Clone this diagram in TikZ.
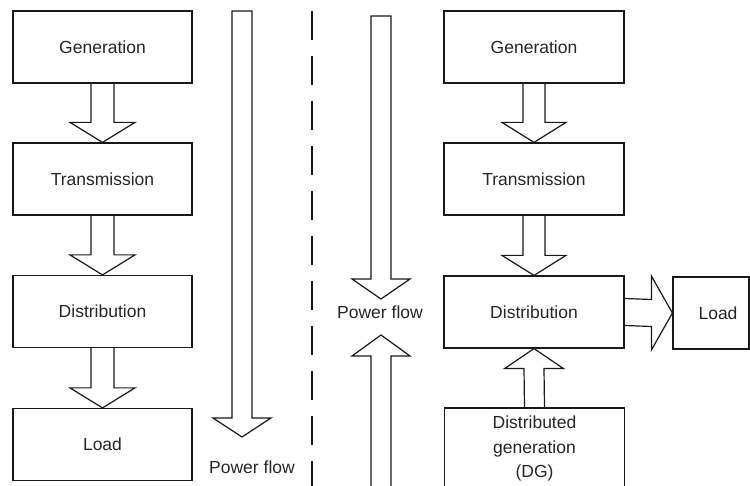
\documentclass[tikz,border=0pt]{standalone}
\usepackage{fontspec}
\setmainfont{Liberation Sans}
\usetikzlibrary{calc}
\tikzset{
  box/.style={draw=black!90, line width=1.2pt, minimum width=179pt, minimum height=72pt, inner sep=0pt, align=center, font=\fontsize{17.5}{24.5}\selectfont, text=black!85},
  arr/.style={draw=black!90, line width=1.2pt, line join=miter},
  lbl/.style={inner sep=0pt, font=\fontsize{17.5}{24}\selectfont, text=black!85},
  divider/.style={draw=black!90, line width=1.7pt, dash pattern=on 29pt off 16pt}
}
% down block arrow: from, to, shaft half width, head half width, head length
\newcommand\blkdown[5]{%
  \draw[arr] ($(#1)+(-#3,0)$) -- ($(#2)+(-#3,-#5)$) -- ($(#2)+(-#4,-#5)$) -- (#2)
    -- ($(#2)+(#4,-#5)$) -- ($(#2)+(#3,-#5)$) -- ($(#1)+(#3,0)$);}
\newcommand\blkup[5]{%
  \draw[arr] ($(#1)+(-#3,0)$) -- ($(#2)+(-#3,#5)$) -- ($(#2)+(-#4,#5)$) -- (#2)
    -- ($(#2)+(#4,#5)$) -- ($(#2)+(#3,#5)$) -- ($(#1)+(#3,0)$);}
\newcommand\blkright[5]{%
  \draw[arr] ($(#1)+(0,-#3)$) -- ($(#2)+(-#5,-#3)$) -- ($(#2)+(-#5,-#4)$) -- (#2)
    -- ($(#2)+(-#5,#4)$) -- ($(#2)+(-#5,#3)$) -- ($(#1)+(0,#3)$);}
\begin{document}
\begin{tikzpicture}[x=1pt,y=-1pt]
\useasboundingbox (0,0) rectangle (750,486);
\clip (0,0) rectangle (750,486);

% left column
\node[box] (lgen) at (102.5,47) {Generation};
\node[box] (ltra) at (102.5,179) {Transmission};
\node[box] (ldis) at (102.5,311.5) {Distribution};
\node[box] (lload) at (102.5,444.5) {Load};
\blkdown{lgen.south}{ltra.north}{11.5}{32.5}{20}
\blkdown{ltra.south}{ldis.north}{11.5}{32.5}{20}
\blkdown{ldis.south}{lload.north}{11.5}{32.5}{20}

% left power flow arrow
\coordinate (lpfTop) at (242,11);
\coordinate (lpfTip) at (242,437);
\draw[arr] ($(lpfTop)+(-10,0)$) -- ($(lpfTip)+(-10,-19)$) -- ($(lpfTip)+(-29,-19)$) -- (lpfTip)
  -- ($(lpfTip)+(29,-19)$) -- ($(lpfTip)+(10,-19)$) -- ($(lpfTop)+(10,0)$) -- cycle;
\node[lbl] (lpf) at (252,467) {Power flow};

% divider
\coordinate (dvTop) at (312,11);
\coordinate (dvBot) at (312,500);
\draw[divider] (dvTop) -- (dvBot);

% middle power flow arrows
\coordinate (mdTop) at (381,16);
\coordinate (mdTip) at (381,299);
\draw[arr] ($(mdTop)+(-10,0)$) -- ($(mdTip)+(-10,-20)$) -- ($(mdTip)+(-29,-20)$) -- (mdTip)
  -- ($(mdTip)+(29,-20)$) -- ($(mdTip)+(10,-20)$) -- ($(mdTop)+(10,0)$) -- cycle;
\node[lbl] (mpf) at (380,312) {Power flow};
\coordinate (muBot) at (381,500);
\coordinate (muTip) at (381,335);
\blkup{muBot}{muTip}{10}{29}{21}

% right column
\node[box, minimum width=180pt] (rgen) at (534,47) {Generation};
\node[box, minimum width=180pt] (rtra) at (534,179) {Transmission};
\node[box, minimum width=180pt] (rdis) at (534,312) {Distribution};
\node[box, minimum width=180pt, minimum height=81pt] (rdg) at (534.5,448.5) {Distributed\\generation\\(DG)};
\node[box, minimum width=76pt] (rload) at (711,313) {\hspace*{14pt}Load};
\blkdown{rgen.south}{rtra.north}{11}{32}{20}
\blkdown{rtra.south}{rdis.north}{11}{32}{20}
\blkup{rdg.north}{rdis.south}{10}{29.5}{20}
\blkright{rdis.east}{rload.west}{13.5}{37}{21}
\end{tikzpicture}
\end{document}
